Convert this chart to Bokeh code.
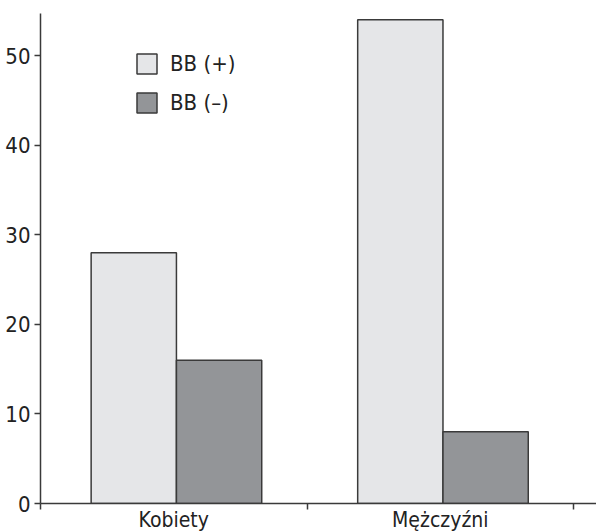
from bokeh.plotting import figure
from bokeh.models import Range1d, FixedTicker, ColumnDataSource, Legend, LegendItem
from bokeh.embed import file_html
from bokeh.resources import INLINE

categories = ["Kobiety", "Mężczyźni"]
bb_plus = [28, 54]
bb_minus = [16, 8]
series_labels = ["BB (+)", "BB (–)"]
y_ticks = [0, 10, 20, 30, 40, 50]

FONT = "DejaVu Sans Condensed, sans-serif"
EDGE = "#3a3a3a"

idx = [i + 0.5 for i in range(len(categories))]
src = ColumnDataSource(dict(
    xp=[c - 0.15 for c in idx], xm=[c + 0.17 for c in idx],
    plus=bb_plus, minus=bb_minus))

p = figure(frame_width=556, frame_height=490, output_backend="svg",
           toolbar_location=None, x_range=Range1d(0, 2.086), y_range=Range1d(0, 54.7),
           min_border_left=40, min_border_top=13, min_border_right=0, min_border_bottom=10)
p.outline_line_color = None
p.grid.visible = False
p.background_fill_color = "white"
p.border_fill_color = "white"

r1 = p.vbar(x="xp", top="plus", width=0.32, source=src,
            fill_color="#e5e6e8", line_color=EDGE, line_width=1.5)
r2 = p.vbar(x="xm", top="minus", width=0.32, source=src,
            fill_color="#939598", line_color=EDGE, line_width=1.5)

legend = Legend(items=[LegendItem(label=series_labels[0], renderers=[r1]),
                       LegendItem(label=series_labels[1], renderers=[r2])],
                location=(94, 388))
legend.border_line_color = None
legend.background_fill_alpha = 0
legend.margin = 0
legend.padding = 0
legend.spacing = 14
legend.glyph_width = 25
legend.glyph_height = 25
legend.label_standoff = 11
legend.label_height = 25
legend.label_text_font = FONT
legend.label_text_font_size = "22px"
legend.label_text_color = "#222222"
p.add_layout(legend, "center")

xa = p.xaxis[0]
xa.ticker = FixedTicker(ticks=idx, minor_ticks=[0, 1, 2])
xa.major_label_overrides = {idx[i]: categories[i] for i in range(len(categories))}
xa.major_tick_out = 0
xa.major_tick_in = 0
xa.minor_tick_out = 6
xa.minor_tick_in = 0
xa.minor_tick_line_color = EDGE
xa.minor_tick_line_width = 1.5
xa.axis_line_color = EDGE
xa.axis_line_width = 1.5
xa.major_label_text_font = FONT
xa.major_label_text_font_size = "21px"
xa.major_label_text_color = "#222222"
xa.major_label_standoff = -2

ya = p.yaxis[0]
ya.ticker = FixedTicker(ticks=y_ticks, minor_ticks=[])
ya.major_tick_out = 6
ya.major_tick_in = 0
ya.major_tick_line_color = EDGE
ya.major_tick_line_width = 1.5
ya.axis_line_color = EDGE
ya.axis_line_width = 1.5
ya.major_label_text_font = FONT
ya.major_label_text_font_size = "22px"
ya.major_label_text_color = "#222222"
ya.major_label_standoff = 4

open("out.html", "w").write(file_html(p, INLINE))
